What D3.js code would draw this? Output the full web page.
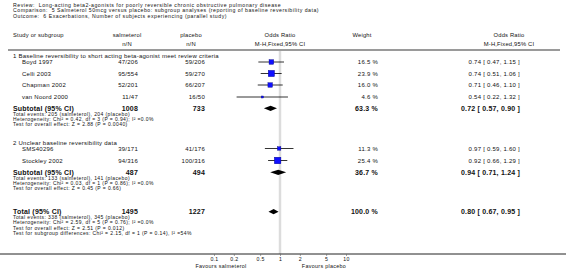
<!DOCTYPE html>
<html><head><meta charset="utf-8">
<script src="https://cdn.jsdelivr.net/npm/d3@7"></script>
<style>
html,body{margin:0;padding:0;background:#fff;}
svg{display:block;font-family:"Liberation Sans",Arial,sans-serif;}
text{white-space:pre;}
</style></head>
<body><svg id="c" width="566" height="272"></svg>
<script>
// ---- data ----
const titleLines = [
  "Review:  Long-acting beta2-agonists for poorly reversible chronic obstructive pulmonary disease",
  "Comparison:  5 Salmeterol 50mcg versus placebo: subgroup analyses (reporting of baseline reversibility data)",
  "Outcome:  6 Exacerbations, Number of subjects experiencing (parallel study)"
];
const groupLabels = ["1 Baseline reversibility to short acting beta-agonist meet review criteria",
                     "2 Unclear baseline reversibility data"];
const studyNames = ["Boyd 1997","Celli 2003","Chapman 2002","van Noord 2000","SMS40296","Stockley 2002"];
const salEvents = [47,95,52,11,39,94];
const salTotals = [206,554,201,47,171,316];
const plaEvents = [59,59,66,16,41,100];
const plaTotals = [206,270,207,50,176,316];
const weights = [16.5,23.9,16.0,4.6,11.3,25.4];
const oddsRatios = [0.74,0.74,0.71,0.54,0.97,0.92];
const ciLow = [0.47,0.51,0.46,0.22,0.59,0.66];
const ciHigh = [1.15,1.06,1.10,1.32,1.60,1.29];

const subLabels = ["Subtotal (95% CI)","Subtotal (95% CI)","Total (95% CI)"];
const subSalTotals = [1008,487,1495];
const subPlaTotals = [733,494,1227];
const subWeights = [63.3,36.7,100.0];
const subOR = [0.72,0.94,0.80];
const subLow = [0.57,0.71,0.67];
const subHigh = [0.90,1.24,0.95];
const subNotes = [
  ["Total events: 205 (salmeterol), 204 (placebo)",
   "Heterogeneity: Chi\u00B2 = 0.42, df = 3 (P = 0.94); I\u00B2 =0.0%",
   "Test for overall effect: Z = 2.88 (P = 0.0040)"],
  ["Total events: 133 (salmeterol), 141 (placebo)",
   "Heterogeneity: Chi\u00B2 = 0.03, df = 1 (P = 0.86); I\u00B2 =0.0%",
   "Test for overall effect: Z = 0.45 (P = 0.66)"],
  ["Total events: 338 (salmeterol), 345 (placebo)",
   "Heterogeneity: Chi\u00B2 = 2.59, df = 5 (P = 0.76); I\u00B2 =0.0%",
   "Test for overall effect: Z = 2.51 (P = 0.012)",
   "Test for subgroup differences: Chi\u00B2 = 2.15, df = 1 (P = 0.14), I\u00B2 =54%"]
];
const tickValues = [0.1,0.2,0.5,1,2,5,10];
const tickLabels = ["0.1","0.2","0.5","1","2","5","10"];
const favourLabels = ["Favours salmeterol","Favours placebo"];

// ---- layout ----
const svg = d3.select("#c");
const x = d3.scaleLog().domain([0.1,10]).range([214,346]);
const col = {left:13, study:22, sal:138, pla:205, salHead:127, plaHead:191, wt:378, wtHead:362, or:520, orHead:509};
const yTitle = [5,10.5,16];
const yHead = [35,43.5];
const yLine = 50;
const yGroup = [56,143];
const yStudy = [62,73.5,85,97,148.5,160.5];
const ySub = [108.3,172.3,211.7];
const noteStep = 5.1;
const yAxis = 254;
const REG = {size:6, ls:0.25}, BOLD = {size:7, ls:0.2, bold:true}, NOTE = {size:5, ls:0.4},
      TITLE = {size:5.2, ls:0.5}, HEAD = {size:5.8, ls:0.2};

function txt(xp, yp, s, st, anchor) {
  return svg.append("text").attr("x", xp).attr("y", yp).attr("dy","0.35em")
    .attr("font-size", st.size).attr("letter-spacing", st.ls)
    .attr("font-weight", st.bold?"bold":"normal")
    .attr("text-anchor", anchor||"start").attr("fill","#111").text(s);
}

// titles
titleLines.forEach((t,i)=>txt(col.left, yTitle[i], t, TITLE));

// headers
txt(col.left, yHead[0], "Study or subgroup", HEAD);
txt(col.salHead, yHead[0], "salmeterol", HEAD, "middle");
txt(col.salHead, yHead[1], "n/N", HEAD, "middle");
txt(col.plaHead, yHead[0], "placebo", HEAD, "middle");
txt(col.plaHead, yHead[1], "n/N", HEAD, "middle");
txt(x(1), yHead[0], "Odds Ratio", HEAD, "middle");
txt(x(1), yHead[1], "M-H,Fixed,95% CI", HEAD, "middle");
txt(col.wtHead, yHead[0], "Weight", HEAD, "middle");
txt(col.orHead, yHead[0], "Odds Ratio", HEAD, "middle");
txt(col.orHead, yHead[1], "M-H,Fixed,95% CI", HEAD, "middle");

svg.append("line").attr("x1",8).attr("x2",560).attr("y1",yLine).attr("y2",yLine)
  .attr("stroke","#9a9a9a").attr("stroke-width",2);

// reference line at 1
svg.append("line").attr("x1",x(1)).attr("x2",x(1)).attr("y1",yLine+1).attr("y2",yAxis)
  .attr("stroke","#dcdcdc").attr("stroke-width",2.5);

// group labels
groupLabels.forEach((g,i)=>txt(col.left, yGroup[i], g, REG));

const f2 = d3.format(".2f"), f1 = d3.format(".1f");
// studies
studyNames.forEach((n,i)=>{
  const y = yStudy[i];
  txt(col.study, y, n, REG);
  txt(col.sal, y, salEvents[i]+"/"+salTotals[i], REG, "end");
  txt(col.pla, y, plaEvents[i]+"/"+plaTotals[i], REG, "end");
  txt(col.wt, y, f1(weights[i])+" %", REG, "end");
  txt(col.or, y, f2(oddsRatios[i])+" [ "+f2(ciLow[i])+", "+f2(ciHigh[i])+" ]", REG, "end");
  svg.append("line").attr("x1",x(ciLow[i])).attr("x2",x(ciHigh[i])).attr("y1",y).attr("y2",y)
    .attr("stroke","#000").attr("stroke-width",0.8);
  const s = 1 + weights[i]*0.22;
  svg.append("rect").attr("x",x(oddsRatios[i])-s/2).attr("y",y-s/2).attr("width",s).attr("height",s)
    .attr("fill","#1010ff").attr("stroke","#000080").attr("stroke-width",0.4);
});

// subtotals
subLabels.forEach((l,i)=>{
  const y = ySub[i];
  txt(col.left, y, l, BOLD);
  txt(col.sal, y, String(subSalTotals[i]), BOLD, "end");
  txt(col.pla, y, String(subPlaTotals[i]), BOLD, "end");
  txt(col.wt, y, f1(subWeights[i])+" %", BOLD, "end");
  txt(col.or, y, f2(subOR[i])+" [ "+f2(subLow[i])+", "+f2(subHigh[i])+" ]", BOLD, "end");
  const h = 2.6;
  svg.append("polygon").attr("points",[[x(subLow[i]),y],[x(subOR[i]),y-h],[x(subHigh[i]),y],[x(subOR[i]),y+h]].map(p=>p.join(",")).join(" "))
    .attr("fill","#000");
  subNotes[i].forEach((t,j)=>txt(col.left, y+5.9+j*noteStep, t, NOTE));
});

// bottom axis
svg.append("line").attr("x1",0).attr("x2",566).attr("y1",yAxis).attr("y2",yAxis)
  .attr("stroke","#222").attr("stroke-width",1);
const ax = svg.append("g").attr("transform",`translate(0,${yAxis})`)
  .call(d3.axisBottom(x).tickValues(tickValues).tickFormat((d,i)=>tickLabels[i]).tickSize(2).tickPadding(1.5));
ax.select(".domain").remove();
ax.selectAll("line").attr("stroke","#666").attr("stroke-width",0.6);
ax.selectAll("text").attr("font-size",5.2).attr("letter-spacing",0.3).attr("fill","#111")
  .attr("font-family","Liberation Sans, Arial, sans-serif");
txt(221, 266, favourLabels[0], {size:5.4, ls:0.3}, "middle");
txt(324, 266, favourLabels[1], {size:5.4, ls:0.3}, "middle");
</script></body></html>
